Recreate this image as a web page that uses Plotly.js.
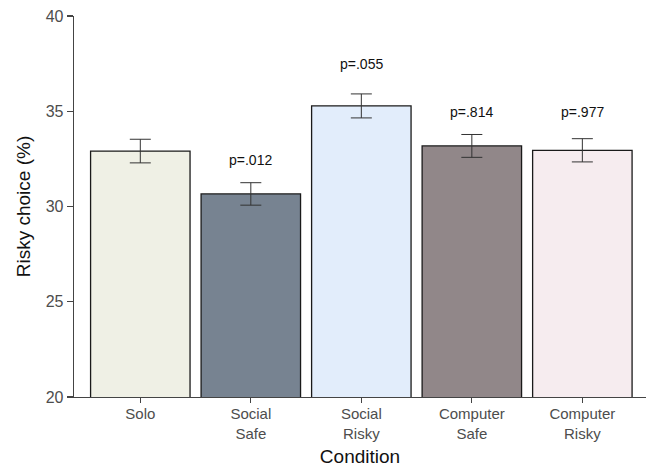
<!DOCTYPE html>
<html>
<head>
<meta charset="utf-8">
<script src="https://cdn.plot.ly/plotly-3.0.1.min.js"></script>
<style>html,body{margin:0;padding:0;background:#fff;}#chart{width:646px;height:469px;}</style>
</head>
<body>
<div id="chart"></div>
<script>
const categories = ["Solo", "Social<br>Safe", "Social<br>Risky", "Computer<br>Safe", "Computer<br>Risky"];
const values = [32.91, 30.66, 35.28, 33.18, 32.95];
const errors = [0.62, 0.59, 0.63, 0.60, 0.61];
const barColors = ["#eff0e5", "#778391", "#e2edfb", "#918789", "#f6ecef"];
const pLabels = ["", "p=.012", "p=.055", "p=.814", "p=.977"];
const pLabelY = [null, 32.44, 37.48, 34.96, 34.96];
const yTicks = [20, 25, 30, 35, 40];

const trace = {
  type: "bar",
  x: categories,
  y: values,
  width: 0.9,
  marker: {color: barColors, line: {color: "#1a1a1a", width: 1.3}},
  error_y: {type: "data", array: errors, visible: true, color: "#333333", thickness: 1, width: 10.5},
  hoverinfo: "none"
};

const annotations = [];
categories.forEach((c, i) => {
  if (pLabels[i]) {
    annotations.push({x: c, y: pLabelY[i], text: pLabels[i], showarrow: false,
      font: {family: "Liberation Sans, Arial, sans-serif", size: 14, color: "#111"},
      xanchor: "center", yanchor: "middle"});
  }
});

const layout = {
  width: 646, height: 469,
  margin: {l: 74, r: 0, t: 16, b: 72, pad: 0, autoexpand: false},
  paper_bgcolor: "#fff", plot_bgcolor: "#fff",
  showlegend: false,
  font: {family: "Liberation Sans, Arial, sans-serif"},
  xaxis: {
    type: "category", range: [-0.6, 4.576],
    showline: true, linecolor: "#444", linewidth: 1.3,
    ticks: "outside", ticklen: 5, tickcolor: "#444", tickwidth: 1.3,
    tickfont: {size: 15, color: "#4d4d4d"},
    ticklabelstandoff: -2,
    showgrid: false, zeroline: false,
    title: {text: "Condition", font: {size: 19, color: "#111"}, standoff: 9}
  },
  yaxis: {
    range: [20, 40], tickvals: yTicks,
    showline: true, linecolor: "#444", linewidth: 1.3,
    ticks: "outside", ticklen: 6, tickcolor: "#444", tickwidth: 1.3,
    tickfont: {size: 16, color: "#4d4d4d"},
    showgrid: false, zeroline: false,
    title: {text: "Risky choice (%)", font: {size: 19, color: "#111"}, standoff: 10}
  },
  annotations: annotations
};

Plotly.newPlot("chart", [trace], layout, {staticPlot: true, displayModeBar: false});
</script>
</body>
</html>
